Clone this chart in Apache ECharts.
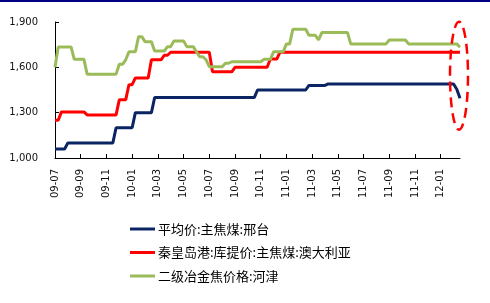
<!DOCTYPE html>
<html>
<head>
<meta charset="utf-8">
<script src="https://cdn.jsdelivr.net/npm/echarts@6/dist/echarts.min.js"></script>
<style>
html,body{margin:0;padding:0;background:#fff;}
#main{width:490px;height:303px;}
</style>
</head>
<body>
<div id="main"></div>
<script>
// month labels covered by the x axis (4 sample points per month)
const months = ['09-07','09-08','09-09','09-10','09-11','09-12','10-01','10-02','10-03','10-04','10-05','10-06','10-07','10-08','10-09','10-10','10-11','10-12','11-01','11-02','11-03','11-04','11-05','11-06','11-07','11-08','11-09','11-10','11-11','11-12','12-01','12-02'];
const xTickLabels = ['09-07','09-09','09-11','10-01','10-03','10-05','10-07','10-09','10-11','11-01','11-03','11-05','11-07','11-09','11-11','12-01'];
const yTicks = [1000, 1300, 1600, 1900];
const seriesNames = ['平均价:主焦煤:邢台', '秦皇岛港:库提价:主焦煤:澳大利亚', '二级冶金焦价格:河津'];

const xingtai = [
  1060,1060,1060,1060,1100,1100,1100,1100,1100,1100,
  1100,1100,1100,1100,1100,1100,1100,1100,1100,1200,
  1200,1200,1200,1200,1200,1300,1300,1300,1300,1300,
  1300,1400,1400,1400,1400,1400,1400,1400,1400,1400,
  1400,1400,1400,1400,1400,1400,1400,1400,1400,1400,
  1400,1400,1400,1400,1400,1400,1400,1400,1400,1400,
  1400,1400,1400,1450,1450,1450,1450,1450,1450,1450,
  1450,1450,1450,1450,1450,1450,1450,1450,1450,1480,
  1480,1480,1480,1480,1480,1490,1490,1490,1490,1490,
  1490,1490,1490,1490,1490,1490,1490,1490,1490,1490,
  1490,1490,1490,1490,1490,1490,1490,1490,1490,1490,
  1490,1490,1490,1490,1490,1490,1490,1490,1490,1490,
  1490,1490,1490,1490,1490,1455,1395
];
const aus = [
  1250,1250,1305,1305,1305,1305,1305,1305,1305,1305,
  1285,1285,1285,1285,1285,1285,1285,1285,1285,1285,
  1385,1385,1385,1485,1485,1530,1530,1530,1530,1530,
  1650,1650,1650,1650,1680,1680,1700,1700,1700,1700,
  1700,1700,1700,1700,1700,1700,1700,1700,1700,1570,
  1570,1570,1570,1570,1570,1570,1600,1600,1600,1600,
  1600,1600,1600,1600,1600,1600,1600,1655,1655,1655,
  1700,1700,1700,1700,1700,1700,1700,1700,1700,1700,
  1700,1700,1700,1700,1700,1700,1700,1700,1700,1700,
  1700,1700,1700,1700,1700,1700,1700,1700,1700,1700,
  1700,1700,1700,1700,1700,1700,1700,1700,1700,1700,
  1700,1700,1700,1700,1700,1700,1700,1700,1700,1700,
  1700,1700,1700,1700,1700,1700,1700
];
const hejin = [
  1600,1735,1735,1735,1735,1735,1653,1653,1653,1653,
  1555,1555,1555,1555,1555,1555,1555,1555,1555,1555,
  1620,1620,1650,1703,1703,1703,1803,1803,1770,1770,
  1770,1708,1708,1708,1708,1737,1737,1775,1775,1775,
  1775,1737,1737,1737,1703,1670,1670,1650,1604,1604,
  1604,1604,1604,1627,1627,1637,1637,1637,1637,1637,
  1637,1637,1637,1637,1637,1653,1653,1653,1703,1703,
  1703,1703,1755,1755,1852,1852,1852,1852,1852,1812,
  1812,1812,1781,1830,1830,1830,1830,1830,1830,1830,
  1830,1830,1755,1755,1755,1755,1755,1755,1755,1755,
  1755,1755,1755,1755,1781,1781,1781,1781,1781,1781,
  1755,1755,1755,1755,1755,1755,1755,1755,1755,1755,
  1755,1755,1755,1755,1755,1755,1733
];

const categories = [];
months.forEach(function (m) { for (let w = 1; w <= 4; w++) categories.push(m + '-' + w); });
categories.length = xingtai.length;

const chart = echarts.init(document.getElementById('main'), null, {renderer: 'canvas'});
const font = 'DejaVu Sans';
chart.setOption({
  animation: false,
  backgroundColor: '#ffffff',
  grid: {left: 55, right: 30, top: 22, bottom: 145, containLabel: false},
  legend: {
    orient: 'vertical', left: 125, top: 217,
    icon: 'rect', itemWidth: 25, itemHeight: 3, itemGap: 9.5,
    textStyle: {fontFamily: 'Noto Sans CJK SC', fontSize: 13, color: '#000', padding: [0, 0, 0, -2], lineHeight: 14},
    data: seriesNames
  },
  xAxis: {
    type: 'category', data: categories, boundaryGap: false,
    axisLine: {lineStyle: {color: '#000', width: 1}},
    axisTick: {inside: true, length: 4, interval: 7, lineStyle: {color: '#000'}},
    axisLabel: {
      interval: 7, rotate: 90, margin: 11, fontFamily: font, fontSize: 10, color: '#111',
      formatter: function (v, i) { return xTickLabels[Math.round(i / 8)] || v.slice(0, 5); }
    },
    splitLine: {show: false}
  },
  yAxis: {
    type: 'value', min: yTicks[0], max: yTicks[yTicks.length - 1], interval: 300,
    axisLine: {show: true, lineStyle: {color: '#000', width: 1}},
    axisTick: {show: true, inside: true, length: 4, lineStyle: {color: '#000'}},
    axisLabel: {margin: 17, fontFamily: font, fontSize: 10, color: '#111',
      formatter: function (v) { return v.toLocaleString('en-US'); }},
    splitLine: {show: false}
  },
  series: [
    {name: seriesNames[0], type: 'line', data: xingtai, showSymbol: false, symbol: 'none', lineStyle: {color: '#0b2564', width: 3}, itemStyle: {color: '#0b2564'}},
    {name: seriesNames[1], type: 'line', data: aus, showSymbol: false, symbol: 'none', lineStyle: {color: '#ff0000', width: 3}, itemStyle: {color: '#ff0000'}},
    {name: seriesNames[2], type: 'line', data: hejin, showSymbol: false, symbol: 'none', lineStyle: {color: '#9bbb59', width: 3}, itemStyle: {color: '#9bbb59'}}
  ]
});

const last = xingtai.length - 1;
const c = chart.convertToPixel({xAxisIndex: 0, yAxisIndex: 0}, [last, 1545]);
chart.setOption({
  graphic: [
    {type: 'rect', shape: {x: 0, y: 0, width: 490, height: 2}, style: {fill: '#000080'}, silent: true},
    {type: 'ellipse', shape: {cx: c[0] - 1, cy: c[1], rx: 9, ry: 54},
      style: {fill: 'none', stroke: '#ff0000', lineWidth: 2.5, lineDash: [10, 6]}, silent: true, z: 10}
  ]
});
</script>
</body>
</html>
